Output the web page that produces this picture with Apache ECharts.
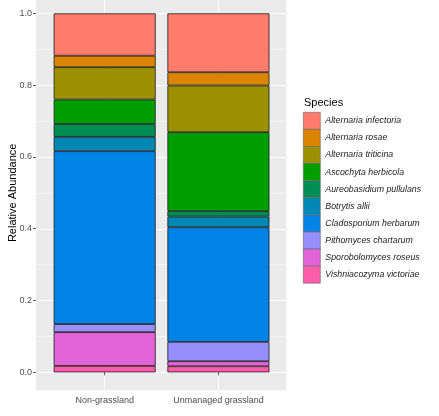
<!DOCTYPE html>
<html>
<head>
<meta charset="utf-8">
<script src="https://cdn.jsdelivr.net/npm/echarts@6/dist/echarts.min.js"></script>
<style>
html, body { margin: 0; padding: 0; background: #fff; }
#main { width: 439px; height: 416px; }
</style>
</head>
<body>
<div id="main"></div>
<script>
/*数据*/
var categories = ['Non-grassland', 'Unmanaged grassland'];
var species = ['Alternaria infectoria', 'Alternaria rosae', 'Alternaria triticina', 'Ascochyta herbicola',
	'Aureobasidium pullulans', 'Botrytis allii', 'Cladosporium herbarum', 'Pithomyces chartarum',
	'Sporobolomyces roseus', 'Vishniacozyma victoriae'];
var nonGrassland = [0.118, 0.032, 0.090, 0.068, 0.036, 0.040, 0.4815, 0.0225, 0.094, 0.018];
var unmanagedGrassland = [0.164, 0.037, 0.130, 0.220, 0.015, 0.030, 0.319, 0.054, 0.014, 0.017];
var yTicks = [0, 0.2, 0.4, 0.6, 0.8, 1.0];
var yMinorTicks = [0.1, 0.3, 0.5, 0.7, 0.9];
var xTicks = [1, 2];
var colors = ['#FF7B6C', '#DB8400', '#9C9100', '#009F00', '#008E55',
	'#0088B4', '#0083E6', '#948FFA', '#E262D8', '#FF5CAE'];

var labelFont = { fontFamily: 'Liberation Sans', fontSize: 9, color: '#4D4D4D' };

/*系列：第一个物种在最上面*/
function getSeries() {
	var list = [];
	for(var i = species.length - 1; i >= 0; i--) {
		list.push({
			name: species[i],
			type: 'bar',
			stack: 'total',
			xAxisIndex: 1,
			yAxisIndex: 2,
			barWidth: 102,
			z: 2,
			itemStyle: {
				color: colors[i],
				borderColor: '#1a1a1a',
				borderWidth: 0.8
			},
			data: [nonGrassland[i], unmanagedGrassland[i]]
		});
	}
	return list;
}

var chart = echarts.init(document.getElementById('main'), null, { renderer: 'canvas' });
var option = {
	animation: false,
	backgroundColor: '#fff',
	title: {
		text: 'Species',
		left: 304,
		top: 97,
		padding: 0,
		textStyle: { fontFamily: 'Liberation Sans', fontSize: 11, fontWeight: 'normal', color: '#000' }
	},
	legend: {
		data: species,
		orient: 'vertical',
		left: 303,
		top: 112,
		padding: 0,
		itemWidth: 17,
		itemHeight: 17,
		itemGap: -0.5,
		icon: 'rect',
		selectedMode: false,
		itemStyle: { borderColor: '#666', borderWidth: 0.6 },
		textStyle: { fontFamily: 'Liberation Sans', fontSize: 8.8, fontStyle: 'italic', color: '#1a1a1a', lineHeight: 17 }
	},
	grid: [{
		/*灰色面板*/
		left: 36,
		width: 250.3,
		top: -4.6,
		height: 394.9,
		outerBoundsMode: 'none',
		show: true,
		backgroundColor: '#EBEBEB',
		borderWidth: 0
	}, {
		/*柱子区域*/
		left: 47.8,
		width: 227.5,
		top: -4.6,
		height: 394.9,
		outerBoundsMode: 'none'
	}],
	xAxis: [{
		type: 'value',
		gridIndex: 0,
		min: 0.4,
		max: 2.6,
		axisLine: { show: false },
		axisTick: { show: false, customValues: xTicks },
		axisLabel: { show: false, customValues: xTicks },
		splitLine: { show: true, lineStyle: { color: '#fff', width: 1 } }
	}, {
		type: 'category',
		gridIndex: 1,
		data: categories,
		axisLine: { show: false },
		axisTick: { show: true, alignWithLabel: true, length: 3, lineStyle: { color: '#333', width: 0.8 } },
		axisLabel: Object.assign({ margin: 6, interval: 0, hideOverlap: false }, labelFont),
		splitLine: { show: false }
	}],
	yAxis: [{
		type: 'value',
		gridIndex: 0,
		min: -0.05,
		max: 1.05,
		name: 'Relative Abundance',
		nameLocation: 'middle',
		nameRotate: 90,
		nameGap: 18,
		nameMoveOverlap: false,
		nameTextStyle: { fontFamily: 'Liberation Sans', fontSize: 11, color: '#000' },
		axisLine: { show: false },
		axisTick: { show: true, length: 3, customValues: yTicks, lineStyle: { color: '#333', width: 0.8 } },
		axisLabel: Object.assign({
			customValues: yTicks,
			margin: 4,
			formatter: function(v) {
				return v.toFixed(1);
			}
		}, labelFont),
		splitLine: { show: true, lineStyle: { color: '#fff', width: 1 } }
	}, {
		type: 'value',
		gridIndex: 0,
		min: -0.05,
		max: 1.05,
		axisLine: { show: false },
		axisTick: { show: false, customValues: yMinorTicks },
		axisLabel: { show: false, customValues: yMinorTicks },
		splitLine: { show: true, lineStyle: { color: '#fff', width: 0.5 } }
	}, {
		type: 'value',
		gridIndex: 1,
		min: -0.05,
		max: 1.05,
		show: false,
		splitLine: { show: false }
	}],
	series: getSeries()
};
chart.setOption(option);
</script>
</body>
</html>
